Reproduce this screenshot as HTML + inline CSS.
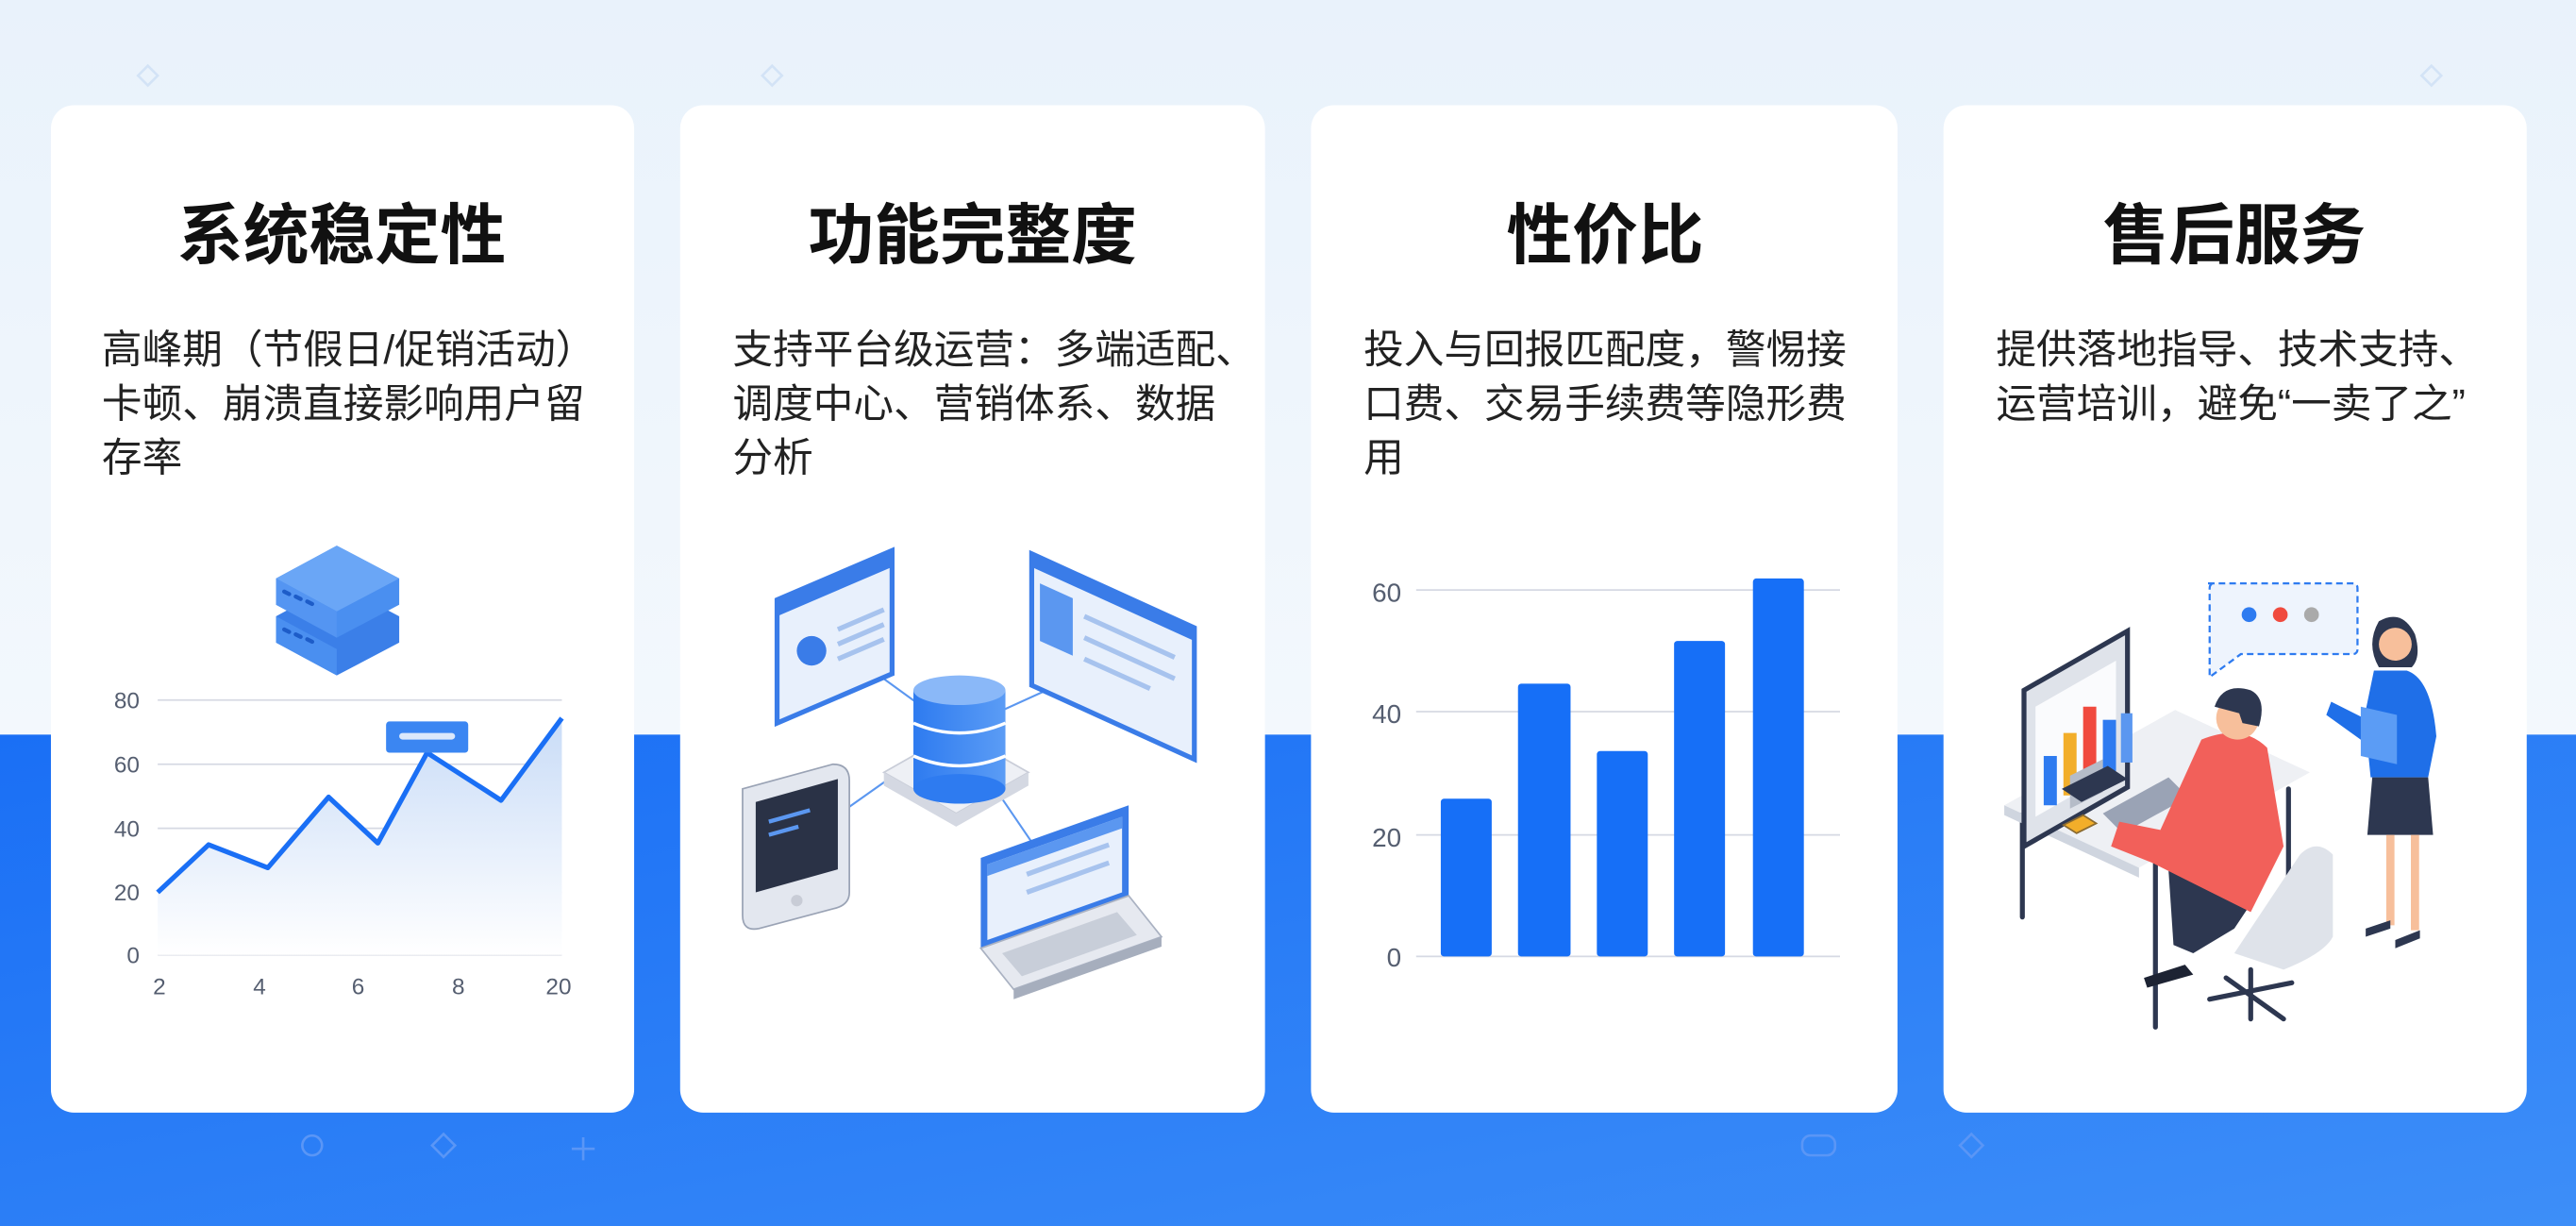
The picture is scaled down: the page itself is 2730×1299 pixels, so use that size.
<!DOCTYPE html>
<html><head><meta charset="utf-8"><style>
html,body{margin:0;padding:0;width:2730px;height:1299px;overflow:hidden}
svg{display:block}
text{font-family:"Liberation Sans","Noto Sans CJK SC",sans-serif}
</style></head><body>
<svg width="2730" height="1299" viewBox="0 0 1568 746" preserveAspectRatio="none" xmlns="http://www.w3.org/2000/svg">
<defs>
<linearGradient id="top" x1="0" y1="0" x2="0" y2="1"><stop offset="0" stop-color="#e9f2fb"/><stop offset="1" stop-color="#f3f8fd"/></linearGradient>
<linearGradient id="bot" x1="0" y1="0" x2="1" y2="1"><stop offset="0" stop-color="#1a6ff5"/><stop offset="1" stop-color="#3d8ef8"/></linearGradient>
<linearGradient id="area" x1="0" y1="0" x2="0" y2="1"><stop offset="0" stop-color="#c9dcf7"/><stop offset="1" stop-color="#ffffff"/></linearGradient>
<linearGradient id="cyl" x1="0" y1="0" x2="1" y2="0"><stop offset="0" stop-color="#2e7bf0"/><stop offset="1" stop-color="#5b9cf5"/></linearGradient>
</defs>
<rect width="1568" height="447" fill="url(#top)"/>
<rect y="447" width="1568" height="299" fill="url(#bot)"/>
<g fill="none" stroke="#d3e3f6" stroke-width="1.5">
<path d="M90 40 l6 6 -6 6 -6 -6z M470 40 l6 6 -6 6 -6 -6z M1480 40 l6 6 -6 6 -6 -6z"/>
</g>
<g fill="none" stroke="#5a96f6" stroke-width="1.5">
<path d="M270 690 l7 7 -7 7 -7 -7z M1200 690 l7 7 -7 7 -7 -7z M355 692 v14 M348 699 h14"/>
<circle cx="190" cy="697" r="6"/><rect x="1097" y="691" width="20" height="12" rx="5"/>
</g>
<g fill="#fff">
<rect x="31" y="64" width="355" height="613" rx="14"/>
<rect x="414" y="64" width="356" height="613" rx="14"/>
<rect x="798" y="64" width="357" height="613" rx="14"/>
<rect x="1183" y="64" width="355" height="613" rx="14"/>
</g>
<g font-weight="bold" font-size="40" fill="#111" text-anchor="middle">
<text x="208" y="157">系统稳定性</text>
<text x="592" y="157">功能完整度</text>
<text x="977" y="157">性价比</text>
<text x="1360" y="157">售后服务</text>
</g>
<g font-size="24.5" fill="#222">
<text x="62" y="221">高峰期（节假日/促销活动）</text>
<text x="62" y="254">卡顿、崩溃直接影响用户留</text>
<text x="62" y="287">存率</text>
<text x="446" y="221">支持平台级运营：多端适配、</text>
<text x="446" y="254">调度中心、营销体系、数据</text>
<text x="446" y="287">分析</text>
<text x="830" y="221">投入与回报匹配度，警惕接</text>
<text x="830" y="254">口费、交易手续费等隐形费</text>
<text x="830" y="287">用</text>
<text x="1215" y="221">提供落地指导、技术支持、</text>
<text x="1215" y="254">运营培训，避免“一卖了之”</text>
</g>
<g>
<path d="M168 375 l37 -20 38 20 v16 l-38 20 -37 -20z" fill="#3b7fe8"/>
<path d="M168 352 l37 -20 38 20 v16 l-38 20 -37 -20z" fill="#4a8ff0"/>
<path d="M168 352 l37 -20 38 20 -38 20z" fill="#6aa6f6"/>
<path d="M168 352 v16 l37 20 v-16z" fill="#5495f2"/>
<path d="M168 375 v16 l37 20 v-16z" fill="#4a8ff0"/>
<g stroke="#1d5cc8" stroke-width="2.5" stroke-linecap="round"><path d="M173 360 l3 1.5 M180 363 l3 1.5 M187 366 l3 1.5 M173 383 l3 1.5 M180 386 l3 1.5 M187 389 l3 1.5"/></g>
</g>
<g stroke="#d6d9e3" stroke-width="1"><path d="M96 426 H342 M96 465 H342 M96 504 H342 M96 543 H342 M96 581 H342"/></g>
<path d="M96 543 L127 514 L163 528 L200 485 L230 513 L260 458 L305 487 L342 437 V581 H96Z" fill="url(#area)"/>
<path d="M96 543 L127 514 L163 528 L200 485 L230 513 L260 458 L305 487 L342 437" fill="none" stroke="#1a6ff5" stroke-width="3" stroke-linejoin="round"/>
<rect x="235" y="439" width="50" height="19" rx="2" fill="#3b86f2"/><rect x="243" y="446" width="34" height="4" rx="2" fill="#dbe8fb"/>
<g font-size="14" fill="#555e70"><text x="85" y="431" text-anchor="end">80</text><text x="85" y="470" text-anchor="end">60</text><text x="85" y="509" text-anchor="end">40</text><text x="85" y="548" text-anchor="end">20</text><text x="85" y="586" text-anchor="end">0</text>
<g text-anchor="middle"><text x="97" y="605">2</text><text x="158" y="605">4</text><text x="218" y="605">6</text><text x="279" y="605">8</text><text x="340" y="605">20</text></g></g>
<g stroke="#5b97f0" stroke-width="1.2" fill="none"><path d="M520 400 L582 445 L670 405 M582 445 L490 510 M582 445 L640 530"/></g>
<path d="M473 365 l70 -30 v75 l-70 30z" fill="#e8f0fc" stroke="#3a7ce8" stroke-width="3"/>
<path d="M473 365 l70 -30 v10 l-70 30z" fill="#3a7ce8"/>
<circle cx="494" cy="396" r="9" fill="#3a7ce8"/>
<g stroke="#a7c3ee" stroke-width="3"><path d="M510 383 l28 -12 M510 392 l28 -12 M510 401 l28 -12"/></g>
<path d="M628 337 l99 45 v80 l-99 -45z" fill="#e8f0fc" stroke="#3a7ce8" stroke-width="3"/>
<path d="M628 337 l99 45 v8 l-99 -45z" fill="#3a7ce8"/>
<path d="M633 355 l20 9 v35 l-20 -9z" fill="#5b97f0"/>
<g stroke="#a7c3ee" stroke-width="3"><path d="M660 375 l55 25 M660 388 l55 25 M660 401 l40 18"/></g>
<path d="M538 470 l44 -25 44 25 -44 25z" fill="#eef0f5" stroke="#c9cdd8"/>
<path d="M538 470 v8 l44 25 44 -25 v-8 l-44 25z" fill="#d4d8e2"/>
<rect x="556" y="420" width="56" height="60" fill="url(#cyl)"/>
<ellipse cx="584" cy="480" rx="28" ry="9" fill="#2e7bf0"/>
<ellipse cx="584" cy="420" rx="28" ry="9" fill="#8ab8f8"/>
<g stroke="#fff" stroke-width="2" fill="none"><path d="M556 440 q28 12 56 0 M556 460 q28 12 56 0"/></g>
<path d="M452 480 l55 -15 q10 0 10 10 v68 q0 8 -10 10 l-45 12 q-10 2 -10 -8z" fill="#e3e7ef" stroke="#9aa3b5"/>
<path d="M460 488 l50 -14 v55 l-50 14z" fill="#2a3246"/>
<g stroke="#5b97f0" stroke-width="2.5"><path d="M468 500 l25 -7 M468 508 l18 -5"/></g>
<circle cx="485" cy="548" r="3.5" fill="#c8ccd6"/>
<path d="M597 522 l90 -32 v55 l-90 32z" fill="#3a7ce8"/>
<path d="M601 526 l82 -29 v46 l-82 29z" fill="#e8f0fc"/>
<path d="M601 526 l82 -29 v7 l-82 29z" fill="#5b97f0"/>
<g stroke="#a7c3ee" stroke-width="3"><path d="M625 532 l50 -18 M625 543 l50 -18"/></g>
<path d="M597 577 l90 -32 20 25 -90 32z" fill="#e6e9f0" stroke="#aab2c2"/>
<path d="M610 580 l70 -25 12 14 -70 25z" fill="#c8ced9"/>
<path d="M617 602 l90 -32 v6 l-90 32z" fill="#a6aebd"/>
<g stroke="#d6d9e3" stroke-width="1"><path d="M862 359 H1120 M862 433 H1120 M862 508 H1120 M862 582 H1120"/></g>
<g fill="#166ff7">
<rect x="877" y="486" width="31" height="96" rx="2"/><rect x="924" y="416" width="32" height="166" rx="2"/><rect x="972" y="457" width="31" height="125" rx="2"/><rect x="1019" y="390" width="31" height="192" rx="2"/><rect x="1067" y="352" width="31" height="230" rx="2"/>
</g>
<g font-size="16" fill="#555e70" text-anchor="end"><text x="853" y="366">60</text><text x="853" y="440">40</text><text x="853" y="515">20</text><text x="853" y="588">0</text></g>
<path d="M1344 355 h88 q3 0 3 3 v37 q0 3 -3 3 h-68 l-19 14 v-54 q0 -3 3 -3z" fill="#eef4fd" stroke="#2e7bf0" stroke-width="1.3" stroke-dasharray="4 2.5"/>
<circle cx="1369" cy="374" r="4.5" fill="#2e7bf0"/><circle cx="1388" cy="374" r="4.5" fill="#f04a3e"/><circle cx="1407" cy="374" r="4.5" fill="#aaa"/>
<g stroke="#2d3750" stroke-width="3" stroke-linecap="round"><path d="M1231 495 V558 M1312 525 V625 M1393 480 V540"/></g>
<path d="M1220 490 l104 -58 82 38 -104 58z" fill="#eef0f4"/>
<path d="M1220 490 v6 l82 38 v-6z" fill="#cfd5df"/>
<path d="M1232 420 l63 -36 v95 l-63 36z" fill="#dfe3ea" stroke="#2d3750" stroke-width="3"/>
<path d="M1239 430 l49 -28 v67 l-49 28z" fill="#fafbfd"/>
<rect x="1244" y="460" width="8" height="30" fill="#2e7bf0"/><rect x="1256" y="446" width="8" height="38" fill="#f2ae2a"/><rect x="1268" y="430" width="8" height="48" fill="#f04a3e"/><rect x="1280" y="438" width="8" height="36" fill="#2e7bf0"/><rect x="1291" y="434" width="7" height="30" fill="#5b97f0"/>
<path d="M1260 472 l20 -10 v20 l-20 10z" fill="#b5bcc8"/>
<path d="M1255 480 l28 -14 12 8 -28 14z" fill="#2d3750"/>
<path d="M1280 495 l40 -22 12 12 -40 22z" fill="#9aa3b5"/>
<path d="M1256 502 l12 -6 8 5 -12 6z" fill="#f2ae2a" stroke="#8a6a30"/>
<path d="M1400 520 q10 -10 20 0 v50 q-5 10 -30 20 l-30 -10 z" fill="#dfe3ea"/>
<g stroke="#2d3750" stroke-width="3" stroke-linecap="round"><path d="M1370 590 V620 M1345 608 l50 -10 M1355 595 l35 25"/></g>
<path d="M1320 530 l40 -10 10 30 -10 15 -25 15 -12 -5 z" fill="#2d3750"/>
<path d="M1305 595 l25 -8 5 6 -28 8z" fill="#1d2333"/>
<path d="M1340 450 q25 -10 40 5 l10 60 -20 40 -40 -20 -20 -10 -25 -10 5 -15 25 5z" fill="#f2605a"/>
<circle cx="1362" cy="437" r="13" fill="#f7bf9b"/>
<path d="M1348 430 q5 -15 22 -10 q10 5 5 22 l-10 -2 -2 -6z" fill="#2d3750"/>
<path d="M1448 378 q14 -8 22 8 q4 14 -2 20 l-20 0 q-8 -14 0 -28z" fill="#2d3750"/>
<circle cx="1458" cy="392" r="10" fill="#f7bf9b"/>
<path d="M1445 408 l20 0 q15 5 18 40 l-5 25 -35 0 -2 -20 -25 -18 3 -8 20 10z" fill="#1f6fe8"/>
<path d="M1437 430 l22 5 v30 l-22 -5z" fill="#5b9cf5"/>
<path d="M1444 473 h34 l3 35 -40 0z" fill="#2d3750"/>
<g stroke="#f7bf9b" stroke-width="5"><path d="M1455 508 v55 M1470 508 v58"/></g>
<path d="M1440 565 l15 -5 0 5 -15 5z M1458 572 l15 -6 0 5 -15 6z" fill="#2d3750"/>
</svg>
</body></html>
